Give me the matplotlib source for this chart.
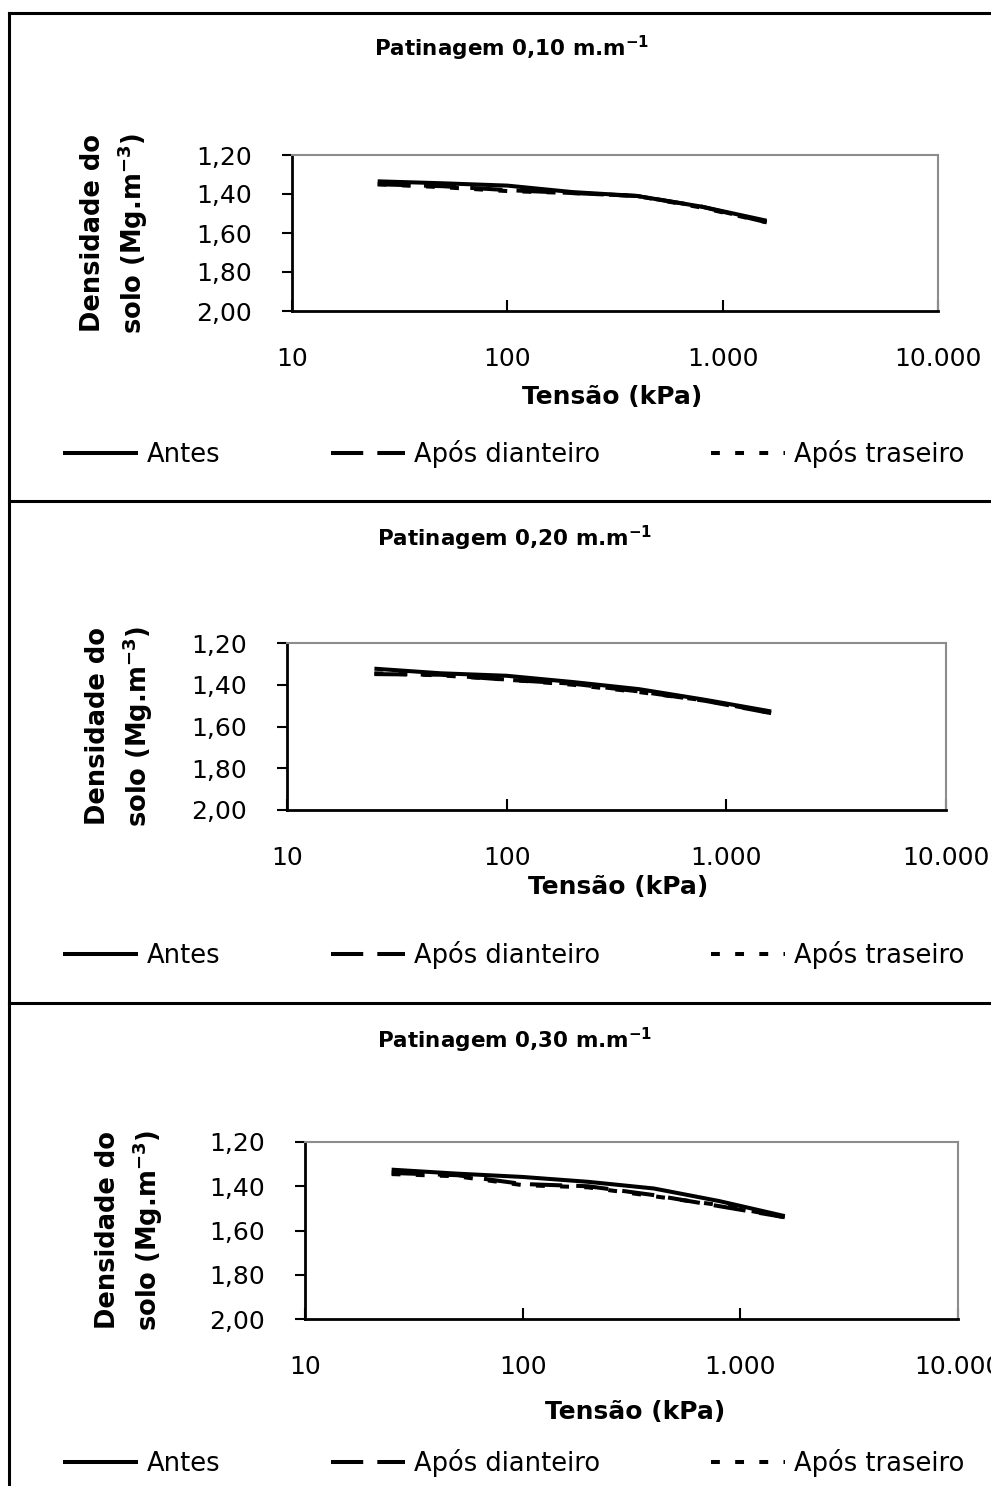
import matplotlib.pyplot as plt
from matplotlib.lines import Line2D
from matplotlib.ticker import FixedLocator, FuncFormatter

# stress levels (kPa)
tensao = [25, 50, 100, 200, 400, 800, 1600]

titles = ["Patinagem 0,10 m.m$^{\\mathbf{-1}}$",
          "Patinagem 0,20 m.m$^{\\mathbf{-1}}$",
          "Patinagem 0,30 m.m$^{\\mathbf{-1}}$"]
series_names = ["Antes", "Após dianteiro", "Após traseiro"]

# soil bulk density (Mg m-3) per panel
antes = [
    [1.335, 1.345, 1.357, 1.390, 1.410, 1.465, 1.537],
    [1.323, 1.345, 1.357, 1.387, 1.421, 1.472, 1.528],
    [1.325, 1.343, 1.358, 1.380, 1.410, 1.467, 1.535],
]
apos_dianteiro = [
    [1.350, 1.360, 1.380, 1.395, 1.410, 1.465, 1.545],
    [1.349, 1.352, 1.376, 1.395, 1.432, 1.477, 1.536],
    [1.340, 1.350, 1.390, 1.400, 1.440, 1.490, 1.540],
]
apos_traseiro = [
    [1.350, 1.365, 1.385, 1.395, 1.410, 1.470, 1.545],
    [1.345, 1.355, 1.375, 1.400, 1.435, 1.475, 1.535],
    [1.345, 1.355, 1.395, 1.405, 1.445, 1.485, 1.540],
]

y_ticks = [1.2, 1.4, 1.6, 1.8, 2.0]
x_ticks = [10, 100, 1000, 10000]
x_tick_labels = ["10", "100", "1.000", "10.000"]

W, H = 991, 1486
fig = plt.figure(figsize=(W / 100, H / 100), dpi=100)


def fx(px):
    return px / W


def fy(py):
    return 1 - py / H


# pixel layout of each panel: axes box, title, labels, legend
layout = [
    dict(ax=(292, 155, 938, 311), title=(512, 48), xlab=(612, 397), ylab=(115, 233), leg=454),
    dict(ax=(287, 643, 946, 810), title=(515, 538), xlab=(618, 887), ylab=(120, 726), leg=955),
    dict(ax=(305, 1142, 958, 1319), title=(515, 1040), xlab=(635, 1412), ylab=(130, 1230), leg=1463),
]

styles = [
    dict(linestyle="-"),
    dict(linestyle=(0, (8, 3.5))),
    dict(linestyle=(0, (2.2, 3.8))),
]

for i, lay in enumerate(layout):
    l, t, r, b = lay["ax"]
    ax = fig.add_axes([fx(l), fy(b), fx(r) - fx(l), fy(t) - fy(b)])
    data = [antes[i], apos_dianteiro[i], apos_traseiro[i]]
    handles = []
    for vals, st, name in zip(data, styles, series_names):
        h, = ax.plot(tensao, vals, color="black", lw=2.9, solid_capstyle="butt",
                     dash_capstyle="butt", label=name, **st)
        handles.append(h)

    ax.set_xscale("log")
    ax.set_xlim(10, 10000)
    ax.set_ylim(2.0, 1.2)
    ax.xaxis.set_major_locator(FixedLocator(x_ticks))
    ax.xaxis.set_minor_locator(FixedLocator([]))
    ax.set_xticklabels(x_tick_labels)
    ax.set_yticks(y_ticks)
    ax.yaxis.set_major_formatter(FuncFormatter(lambda v, p: f"{v:.2f}".replace(".", ",")))
    ax.tick_params(axis="y", direction="out", length=7, width=1.5, pad=22, labelsize=18)
    ax.tick_params(axis="x", direction="in", length=8, width=1.5, pad=26, labelsize=18)
    for s in ["left", "bottom"]:
        ax.spines[s].set_color("black")
        ax.spines[s].set_linewidth(2)
    for s in ["top", "right"]:
        ax.spines[s].set_color("#8c8c8c")
        ax.spines[s].set_linewidth(1.5)

    fig.text(fx(lay["title"][0]), fy(lay["title"][1]), titles[i], ha="center", va="center",
             fontsize=15.5, fontweight="bold")
    fig.text(fx(lay["xlab"][0]), fy(lay["xlab"][1]), "Tensão (kPa)", ha="center", va="center",
             fontsize=18, fontweight="bold")
    fig.text(fx(lay["ylab"][0]), fy(lay["ylab"][1]),
             "Densidade do\nsolo (Mg.m$^{\\mathbf{-3}}$)", ha="center", va="center",
             rotation=90, fontsize=18.5, fontweight="bold", linespacing=1.35)

    fig.legend(handles=handles, loc="center", bbox_to_anchor=(fx(514), fy(lay["leg"])),
               ncol=3, frameon=False, fontsize=18.5, handlelength=2.9, handletextpad=0.35,
               columnspacing=4.3)

# panel borders
border = dict(color="black", lw=2.2, transform=fig.transFigure)
fig.add_artist(Line2D([fx(9), 1], [fy(13), fy(13)], **border))
fig.add_artist(Line2D([fx(9), fx(9)], [fy(13), 0], **border))
for sep in [501, 1003]:
    fig.add_artist(Line2D([fx(9), 1], [fy(sep), fy(sep)], **border))

fig.savefig("out.png", dpi=100)
